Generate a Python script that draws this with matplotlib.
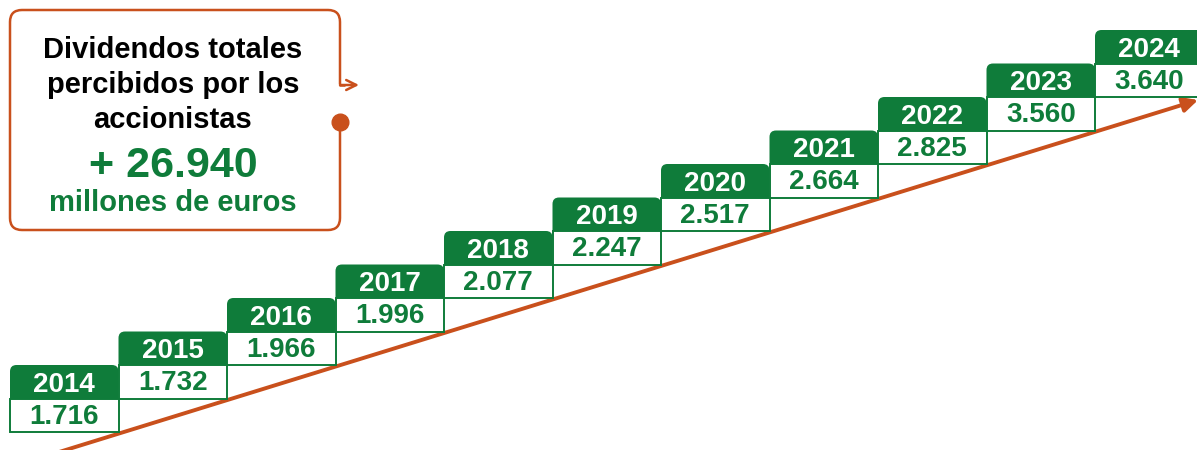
import matplotlib.pyplot as plt
from matplotlib.patches import FancyBboxPatch, Rectangle

plt.rcParams['font.family'] = ['Liberation Sans', 'DejaVu Sans']

# datos
years = ['2014', '2015', '2016', '2017', '2018', '2019', '2020', '2021', '2022', '2023', '2024']
dividends = ['1.716', '1.732', '1.966', '1.996', '2.077', '2.247', '2.517', '2.664', '2.825', '3.560', '3.640']
title_lines = ['Dividendos totales', 'percibidos por los', 'accionistas']
total_label = '+ 26.940'
unit_label = 'millones de euros'

GREEN = '#0F7C3A'
ORANGE = '#C9501C'

W, H = 1197, 450
step_w, step_h = 108.5, 33.5   # px por escalon

fig = plt.figure(figsize=(W / 100, H / 100), dpi=100)

# escalera (x = indice del anio, y = fila)
ax = fig.add_axes([0, 0, 1, 1])
ax.set_xlim(-10 / step_w, (W - 10) / step_w)
ax.set_ylim(-18 / step_h, 432 / step_h)
ax.axis('off')

aspect = step_w / step_h
n = len(years)

# flecha de tendencia
ax.annotate('', xy=(n - 0.05, (432 - 100) / step_h), xytext=(0.45, -0.6),
            arrowprops=dict(arrowstyle='-|>', color=ORANGE, lw=2.8, mutation_scale=22,
                            shrinkA=0, shrinkB=0), zorder=1, annotation_clip=False)

for i, (yr, val) in enumerate(zip(years, dividends)):
    head = FancyBboxPatch((i, i + 0.7), 1, 1.3,
                          boxstyle='round,pad=0,rounding_size=0.06',
                          mutation_aspect=aspect, fc=GREEN, ec='none', zorder=2)
    ax.add_patch(head)
    ax.add_patch(Rectangle((i, i), 1, 1, fc='white', ec=GREEN, lw=1.4, zorder=3))
    ax.text(i + 0.5, i + 1.2, yr, ha='center', va='baseline', color='white',
            fontsize=20, fontweight='bold', zorder=4)
    ax.text(i + 0.5, i + 0.24, val, ha='center', va='baseline', color=GREEN,
            fontsize=20, fontweight='bold', zorder=4)

# cuadro de texto (coordenadas en px)
ax2 = fig.add_axes([0, 0, 1, 1])
ax2.set_xlim(0, W)
ax2.set_ylim(H, 0)
ax2.axis('off')

box = FancyBboxPatch((10, 10), 330, 220, boxstyle='round,pad=0,rounding_size=12',
                     fc='white', ec=ORANGE, lw=1.8, zorder=2)
ax2.add_patch(box)
ax2.plot([340, 340], [87, 117], color='white', lw=4, zorder=3)
ax2.plot([339, 345], [85, 85], color=ORANGE, lw=1.8, zorder=3, solid_capstyle='butt')
ax2.annotate('', xy=(359, 85), xytext=(340, 85),
             arrowprops=dict(arrowstyle='->', color=ORANGE, lw=1.8, mutation_scale=18,
                             shrinkA=0, shrinkB=0), zorder=3)
ax2.plot(340, 122, 'o', ms=12, color=ORANGE, zorder=4)

for txt, yb in zip(title_lines, [58, 93, 128]):
    ax2.text(173, yb, txt, ha='center', va='baseline', color='black',
             fontsize=21, fontweight='bold', zorder=5)
ax2.text(173, 177, total_label, ha='center', va='baseline', color=GREEN,
         fontsize=31, fontweight='bold', zorder=5)
ax2.text(173, 211, unit_label, ha='center', va='baseline', color=GREEN,
         fontsize=21, fontweight='bold', zorder=5)

fig.savefig('out.png', dpi=100)
